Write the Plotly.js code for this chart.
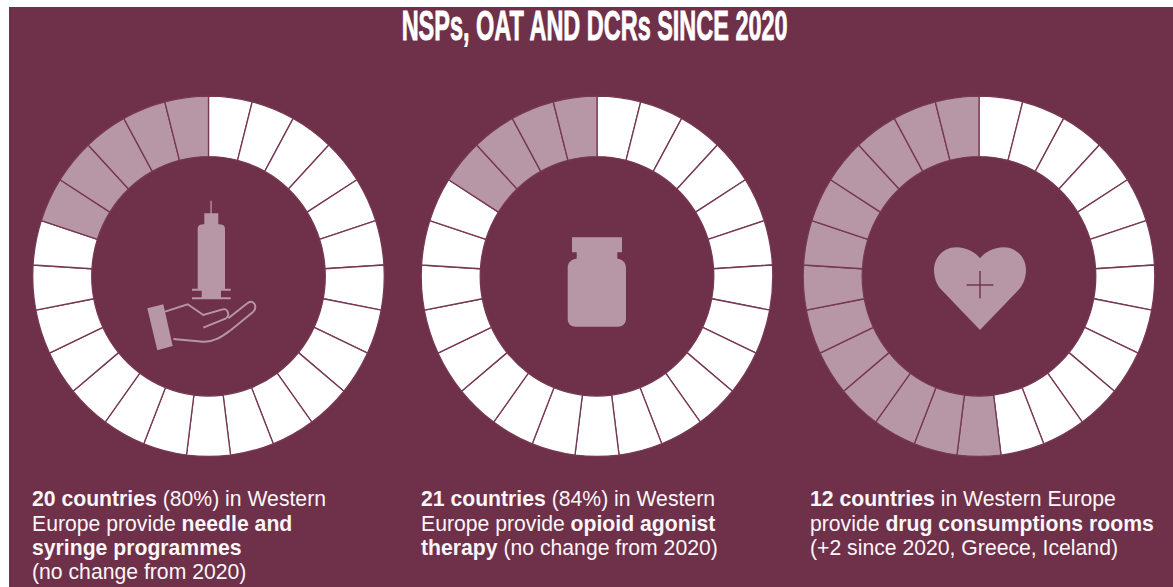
<!DOCTYPE html>
<html>
<head>
<meta charset="utf-8">
<script src="https://cdn.plot.ly/plotly-3.0.1.min.js"></script>
<style>html,body{margin:0;padding:0;background:#fff;overflow:hidden}#chart{width:1173px;height:587px}</style>
</head>
<body>
<div id="chart"></div>
<script>
// Harm-reduction coverage in Western Europe: one ring per service, one slice per country.
const chartTitle = "NSPs, OAT AND DCRs SINCE 2020";
const services = ["Needle and syringe programmes", "Opioid agonist therapy", "Drug consumption rooms"];
const countriesProviding = [20, 21, 12];
const countriesTotal = 25;

const captionNeedle = [
  "<b>20 countries</b> (80%) in Western",
  "Europe provide <b>needle and</b>",
  "<b>syringe programmes</b>",
  "(no change from 2020)"
];
const captionOpioid = [
  "<b>21 countries</b> (84%) in Western",
  "Europe provide <b>opioid agonist</b>",
  "<b>therapy</b> (no change from 2020)"
];
const captionRooms = [
  "<b>12 countries</b> in Western Europe",
  "provide <b>drug consumptions rooms</b>",
  "(+2 since 2020, Greece, Iceland)"
];

const WIDTH = 1173, HEIGHT = 587;
const BG = "#6f304a", MUTED = "#b796a6", WHITE = "#ffffff";
const ringCentreX = [208.5, 597, 979];
const ringCentreY = 276.3;
const ringRadius = 175.8;
const ringStretchY = 179.9 / 175.5;   // rings are very slightly taller than wide
const captionX = [30.5, 419.5, 808.5];
const captionBaselines = [506, 530.5, 554.5, 579];

const px = x => x / WIDTH;
const py = y => 1 - y / HEIGHT;

// Turn a list of [command, x, y, x, y...] steps given in page pixels into a paper-space path.
function path(steps) {
  return steps.map(s => {
    if (s[0] === "Z") return "Z";
    let out = s[0];
    for (let i = 1; i < s.length; i += 2) {
      out += (i > 1 ? " " : "") + px(s[i]).toFixed(5) + "," + py(s[i + 1]).toFixed(5);
    }
    return out;
  }).join(" ");
}
const filled = steps => ({type: "path", xref: "paper", yref: "paper", path: path(steps),
  fillcolor: MUTED, line: {width: 0}, layer: "above"});
const outline = (steps, color, width) => ({type: "path", xref: "paper", yref: "paper", path: path(steps),
  fillcolor: "rgba(0,0,0,0)", line: {color: color, width: width}, layer: "above"});

// One donut per service
const traces = services.map((name, i) => {
  const provided = countriesProviding[i];
  const slices = Array.from({length: countriesTotal}, (_, k) => k);
  return {
    type: "pie",
    name: name,
    labels: slices.map(k => name + " " + (k + 1)),
    values: slices.map(() => 1),
    sort: false,
    direction: "clockwise",
    rotation: 0,
    hole: 116.6 / 175.5,
    textinfo: "none",
    hoverinfo: "skip",
    showlegend: false,
    marker: {
      colors: slices.map(k => k < provided ? WHITE : MUTED),
      line: {color: "#763852", width: 1.3}
    },
    domain: {
      x: [px(ringCentreX[i] - ringRadius), px(ringCentreX[i] + ringRadius)],
      y: [py(ringCentreY + ringRadius), py(ringCentreY - ringRadius)]
    }
  };
});

// Icons in the middle of each ring
const syringe = [
  filled([["M",210.4,200.7],["L",211.7,200.7],["L",211.7,213.3],["L",218.3,213.3],["L",218.3,224.3],
    ["C",222,224.3,225,225,225,229],["L",225,288.7],["L",230.7,288.7],["L",230.7,290.7],["L",221,290.7],
    ["L",221,297.3],["L",230.7,297.3],["L",230.7,299.3],["L",192,299.3],["L",192,297.3],["L",201.7,297.3],
    ["L",201.7,290.7],["L",192,290.7],["L",192,288.7],["L",197.7,288.7],["L",197.7,229],
    ["C",197.7,225,200.5,224.3,204.3,224.3],["L",204.3,213.3],["L",210.4,213.3],["Z"]]),
  filled([["M",147.3,308.3],["L",163.3,304.3],["L",172.7,346],["L",157.3,350.3],["Z"]]),
  outline([["M",165,311.7],["L",187.7,304.3],["L",203.3,315],["L",222.7,309.3],
    ["C",227.5,308,230.5,315,226,318.3],["L",203.3,327.7]], MUTED, 1.9),
  outline([["M",173.3,339],["L",203.3,341.7],["C",216,342.3,225,334,231,330],["L",253.3,311.7],
    ["C",258,306.5,253,298,247,303.5],["L",228.3,318.3]], MUTED, 1.9)
];
const bottle = [
  filled([["M",572,237.3],["L",622,237.3],["L",622,252.3],["L",617.3,252.3],["L",617.3,258.5],
    ["C",622,259.5,626,262,626,268],["L",626,318.7],["C",626,324,622,326.7,618,326.7],["L",575.7,326.7],
    ["C",571,326.7,567.7,324,567.7,318.7],["L",567.7,268],["C",567.7,262,571.5,259.5,576.7,258.5],
    ["L",576.7,252.3],["L",572,252.3],["Z"]])
];
const heart = [
  filled([["M",980,258.3],["C",975,252,966,247.3,956.7,247.3],["C",944,247.3,934,257,934,270],
    ["C",934,277,936.5,284,940,288.3],["L",980,330],["L",1020,288.3],["C",1023.5,284,1026,277,1026,270],
    ["C",1026,257,1016,247.3,1003.3,247.3],["C",994,247.3,985,252,980,258.3],["Z"]]),
  outline([["M",966.7,285],["L",993.3,285]], BG, 1.4),
  outline([["M",980,271],["L",980,298.3]], BG, 1.4)
];

const shapes = [
  {type: "rect", xref: "paper", yref: "paper", x0: px(9), x1: 1, y0: 0, y1: py(7),
   fillcolor: BG, line: {width: 0}, layer: "below"},
  ...syringe, ...bottle, ...heart
];

// Caption lines sit on fixed baselines under each ring
const annotations = [];
[captionNeedle, captionOpioid, captionRooms].forEach((lines, c) => {
  lines.forEach((text, l) => annotations.push({
    xref: "paper", yref: "paper", xanchor: "left", yanchor: "bottom",
    x: px(captionX[c]), y: py(captionBaselines[l] + 6),
    text: text, showarrow: false, align: "left", borderpad: 0,
    font: {family: "Liberation Sans", size: 21.2, color: "#fbf6f8"}
  }));
});
annotations.push({
  xref: "paper", yref: "paper", xanchor: "center", yanchor: "middle",
  x: px(594.5), y: py(25.5),
  text: "<b>" + chartTitle + "</b>", showarrow: false, borderpad: 0,
  font: {family: "Liberation Sans Narrow, Liberation Sans", size: 43, color: WHITE}
});

const layout = {
  width: WIDTH, height: HEIGHT,
  margin: {l: 0, r: 0, t: 0, b: 0},
  paper_bgcolor: WHITE,
  showlegend: false,
  shapes: shapes,
  annotations: annotations
};

const root = document.getElementById("chart");
Plotly.newPlot(root, traces, layout, {displayModeBar: false, staticPlot: true}).then(() => {
  // Condensed headline: squeeze the title into its column width and keep the strokes heavy
  root.querySelectorAll(".annotation-text").forEach(t => {
    if (t.textContent === chartTitle) {
      t.setAttribute("textLength", 386);
      t.setAttribute("lengthAdjust", "spacingAndGlyphs");
      t.style.stroke = WHITE;
      t.style.strokeWidth = "0.9px";
    }
  });
  // Apply the slight vertical stretch of the rings around their shared centre
  root.querySelectorAll(".pielayer .trace").forEach(g => {
    g.setAttribute("transform",
      `translate(0 ${ringCentreY}) scale(1 ${ringStretchY}) translate(0 ${-ringCentreY})`);
  });
});
</script>
</body>
</html>
